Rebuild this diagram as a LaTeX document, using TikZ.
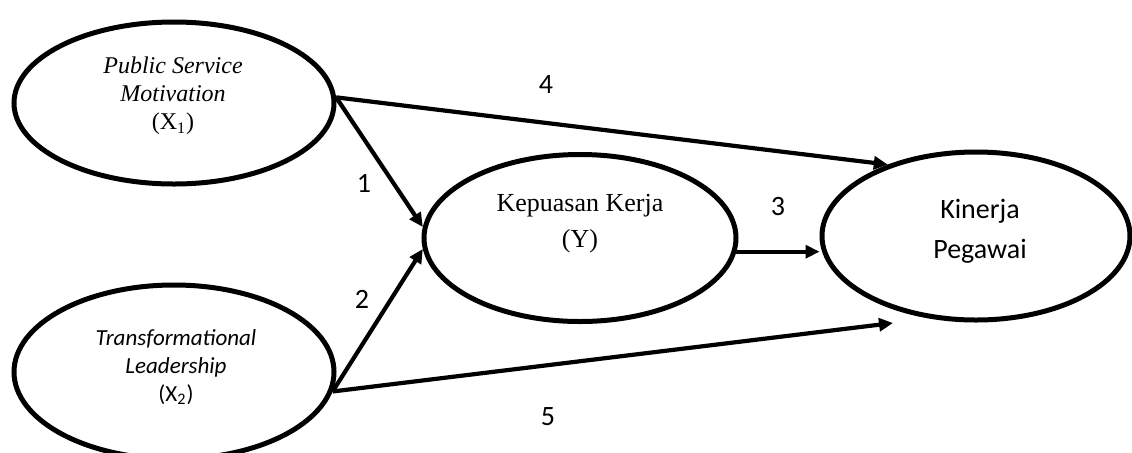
\documentclass[tikz,border=0pt]{standalone}
\usepackage{fontspec}
\setmainfont{Liberation Serif}
\newfontfamily\calibri{Carlito}
\usepackage{tikz}
\usetikzlibrary{arrows.meta,calc,positioning,shapes.geometric}

\begin{document}
\begin{tikzpicture}[
      x=0.5pt, y=-0.5pt,
      >={Triangle[length=7pt,width=6.5pt]},
      latent/.style={draw, ellipse, line width=2.5pt, inner sep=0pt},
      path/.style={->, line width=2.1pt},
      num/.style={font=\calibri\fontsize{14}{16}\selectfont},
      serif/.style={align=center, font=\fontsize{12}{14}\selectfont}
    ]
      \useasboundingbox (0,0) rectangle (1132,452);
      \clip (0,0) rectangle (1132,452);
      % variabel laten
      \node[latent, minimum width=160pt, minimum height=81pt] (psm) at (174,103) {};
      \node[latent, minimum width=160pt, minimum height=87pt] (tl) at (174,372) {};
      \node[latent, minimum width=156pt, minimum height=83.5pt] (kep) at (580,238) {};
      \node[latent, minimum width=154pt, minimum height=84pt] (kin) at (976,236) {};
      % teks
      \node[serif] (psm-t) at (173,96) {\textit{Public Service}\\\textit{Motivation}\\(X\textsubscript{1})};
      \node[align=center, font=\calibri\fontsize{11.5}{14}\selectfont] (tl-t) at (176,367)
        {\textit{Transformational}\\\textit{Leadership}\\(X\textsubscript{2})};
      \node[align=center, font=\fontsize{13}{18}\selectfont] (kep-t) at (580,224) {Kepuasan Kerja\\(Y)};
      \node[align=center, font=\calibri\fontsize{14}{20}\selectfont] (kin-t) at (980,231) {Kinerja\\Pegawai};
      % jalur
      \coordinate (t5) at (893,323);
      \draw[path] (psm.2) -- (kep.176);
      \draw[path] (tl.-7) -- (kep.184);
      \draw[path] (kep.-5) -- (kep.-5 -| kin.west);
      \draw[path] (psm.2) -- (kin.141);
      \draw[path] (tl.-7) -- (t5);
      % nomor jalur
      \node[num] (n1) at (364,183) {1};
      \node[num] (n2) at (362,299) {2};
      \node[num] (n3) at (778,207) {3};
      \node[num] (n4) at (546,85) {4};
      \node[num] (n5) at (548,417) {5};
    \end{tikzpicture}
\end{document}
